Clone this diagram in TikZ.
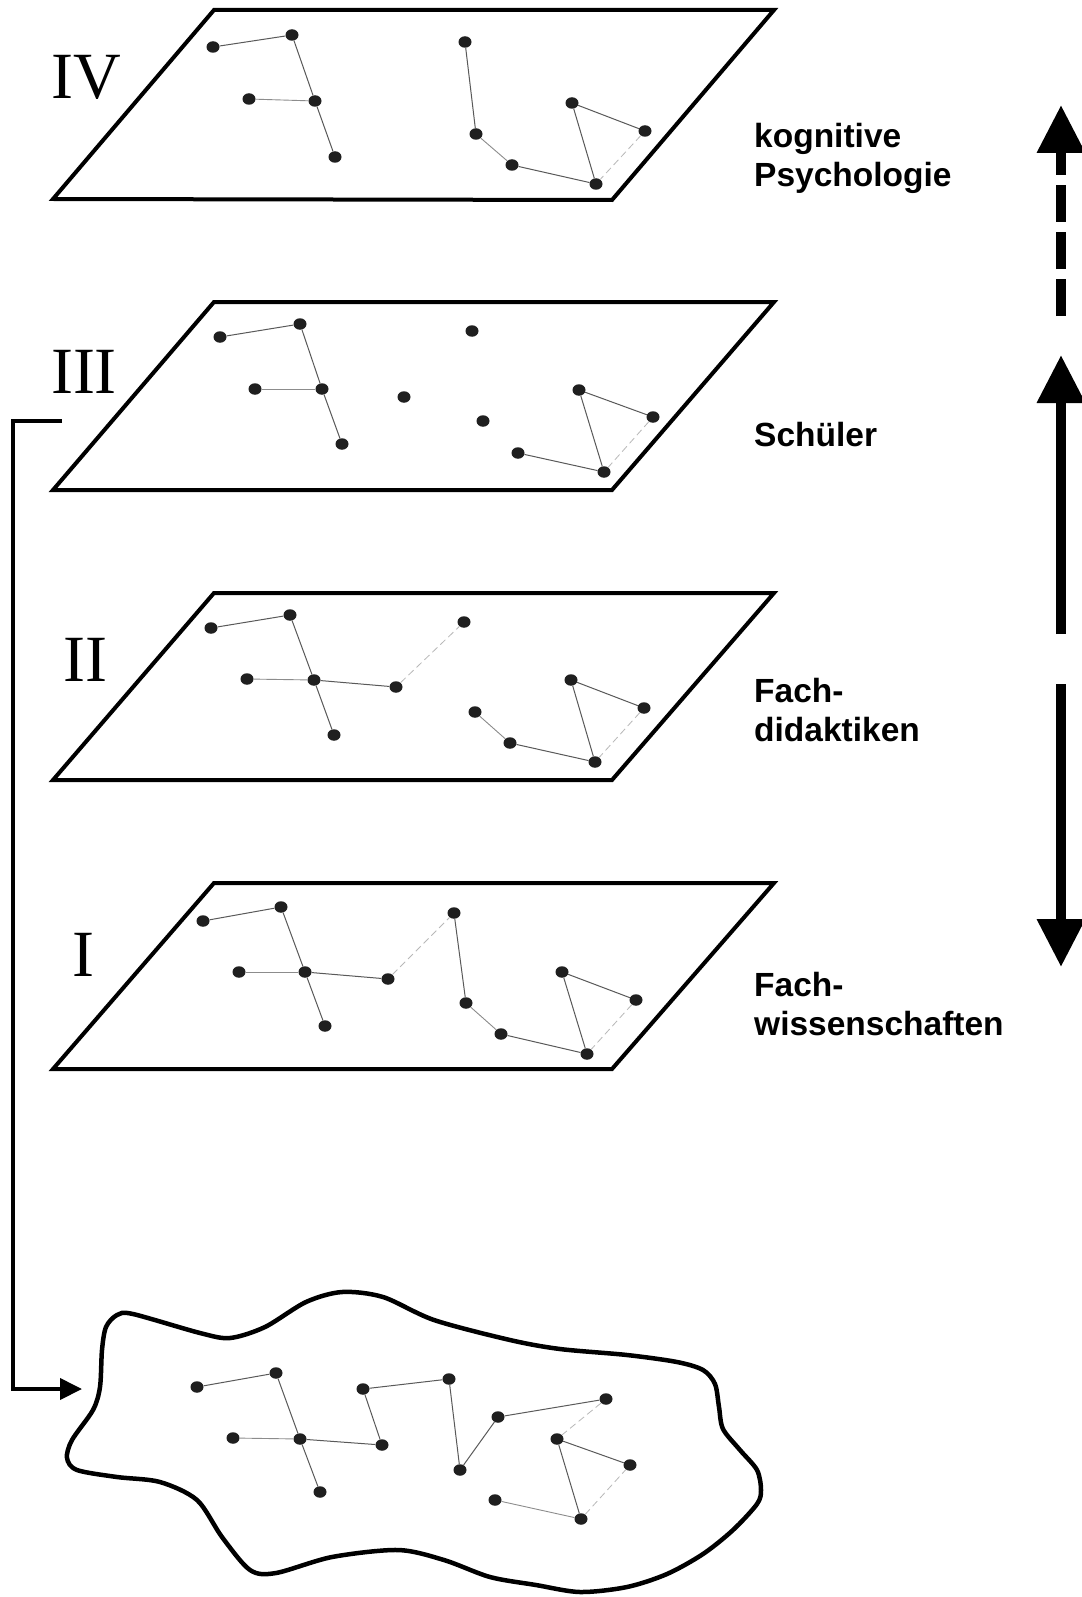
\documentclass[tikz,border=0pt]{standalone}
\usepackage{fontspec}
\setmainfont{Liberation Serif}
\newfontfamily\labelsans{Liberation Sans}
\usetikzlibrary{arrows.meta,shapes.geometric}

\tikzset{
  plane/.style={draw=black, line width=4pt, line join=miter, fill=white},
  dot/.style={ellipse, fill=black!88, inner sep=0pt, minimum width=13pt, minimum height=11.5pt},
  link/.style={draw=black!65, line width=1pt},
  lightlink/.style={draw=black!45, line width=0.9pt},
  faintlink/.style={draw=black!28, line width=0.8pt, dash pattern=on 7pt off 4pt},
  numeral/.style={font=\fontsize{66}{70}\selectfont, inner sep=0pt},
  layerlabel/.style={font=\labelsans\bfseries\fontsize{33.5}{39}\selectfont, align=left, inner sep=0pt, anchor=base west},
  fatarrow/.style={line width=10pt, -{Triangle[length=48pt,width=46pt]}},
  feed/.style={line width=4pt, -{Triangle[length=22pt,width=21pt]}},
  blob/.style={draw=black, line width=4.5pt}
}

\begin{document}
\begin{tikzpicture}[x=1pt,y=-1pt]
\useasboundingbox (0,0) rectangle (1081,1597);

% ---------- the four planes ----------
\draw[plane] (214,10)  -- (774,10)  -- (612,200)  -- (53,199)  -- cycle;
\draw[plane] (214,302) -- (774,302) -- (612,490)  -- (53,490)  -- cycle;
\draw[plane] (214,593) -- (774,593) -- (612,780)  -- (53,780)  -- cycle;
\draw[plane] (214,883) -- (774,883) -- (612,1069) -- (53,1069) -- cycle;

% ---------- numerals ----------
\node[numeral] (numIV)  at (86,77)  {IV};
\node[numeral] (numIII) at (84,372) {III};
\node[numeral] (numII)  at (85,660) {II};
\node[numeral] (numI)   at (83,955) {I};

% ---------- plane IV ----------
\node[dot] (a1) at (213,47) {};
\node[dot] (a2) at (292,35) {};
\node[dot] (a3) at (249,99) {};
\node[dot] (a4) at (315,101) {};
\node[dot] (a5) at (335,157) {};
\node[dot] (b1) at (465,42) {};
\node[dot] (b2) at (476,134) {};
\node[dot] (b3) at (512,165) {};
\node[dot] (b4) at (596,184) {};
\node[dot] (b5) at (572,103) {};
\node[dot] (b6) at (645,131) {};
\draw[link] (a1) -- (a2);
\draw[link] (a2) -- (a4);
\draw[link] (a4) -- (a5);
\draw[lightlink] (a3) -- (a4);
\draw[link] (b1) -- (b2);
\draw[lightlink] (b2) -- (b3);
\draw[link] (b3) -- (b4);
\draw[link] (b4) -- (b5);
\draw[link] (b5) -- (b6);
\draw[faintlink] (b6) -- (b4);

% ---------- plane III ----------
\node[dot] (c1) at (220,337) {};
\node[dot] (c2) at (300,324) {};
\node[dot] (c3) at (255,389) {};
\node[dot] (c4) at (322,389) {};
\node[dot] (c5) at (342,444) {};
\node[dot] (i1) at (472,331) {};
\node[dot] (i2) at (404,397) {};
\node[dot] (i3) at (483,421) {};
\node[dot] (d1) at (518,453) {};
\node[dot] (d2) at (604,472) {};
\node[dot] (d3) at (579,390) {};
\node[dot] (d4) at (653,417) {};
\draw[link] (c1) -- (c2);
\draw[link] (c2) -- (c4);
\draw[link] (c4) -- (c5);
\draw[lightlink] (c3) -- (c4);
\draw[link] (d1) -- (d2);
\draw[link] (d2) -- (d3);
\draw[link] (d3) -- (d4);
\draw[faintlink] (d4) -- (d2);

% ---------- plane II ----------
\node[dot] (e1) at (211,628) {};
\node[dot] (e2) at (290,615) {};
\node[dot] (e3) at (247,679) {};
\node[dot] (e4) at (314,680) {};
\node[dot] (e5) at (334,735) {};
\node[dot] (e6) at (396,687) {};
\node[dot] (e7) at (464,622) {};
\node[dot] (f1) at (475,712) {};
\node[dot] (f2) at (510,743) {};
\node[dot] (f3) at (595,762) {};
\node[dot] (f4) at (571,680) {};
\node[dot] (f5) at (644,708) {};
\draw[link] (e1) -- (e2);
\draw[link] (e2) -- (e4);
\draw[link] (e4) -- (e5);
\draw[link] (e4) -- (e6);
\draw[lightlink] (e3) -- (e4);
\draw[faintlink] (e6) -- (e7);
\draw[lightlink] (f1) -- (f2);
\draw[link] (f2) -- (f3);
\draw[link] (f3) -- (f4);
\draw[link] (f4) -- (f5);
\draw[faintlink] (f5) -- (f3);

% ---------- plane I ----------
\node[dot] (g1) at (203,921) {};
\node[dot] (g2) at (281,907) {};
\node[dot] (g3) at (239,972) {};
\node[dot] (g4) at (305,972) {};
\node[dot] (g5) at (325,1026) {};
\node[dot] (g6) at (388,979) {};
\node[dot] (g7) at (454,913) {};
\node[dot] (g8) at (466,1003) {};
\node[dot] (g9) at (501,1034) {};
\node[dot] (g10) at (587,1054) {};
\node[dot] (g11) at (562,972) {};
\node[dot] (g12) at (636,1000) {};
\draw[link] (g1) -- (g2);
\draw[link] (g2) -- (g4);
\draw[link] (g4) -- (g5);
\draw[link] (g4) -- (g6);
\draw[lightlink] (g3) -- (g4);
\draw[faintlink] (g6) -- (g7);
\draw[link] (g7) -- (g8);
\draw[lightlink] (g8) -- (g9);
\draw[link] (g9) -- (g10);
\draw[link] (g10) -- (g11);
\draw[link] (g11) -- (g12);
\draw[faintlink] (g12) -- (g10);

% ---------- layer labels (anchored at the last line's baseline) ----------
\node[layerlabel] (lblIV)  at (754,187)  {kognitive\\Psychologie};
\node[layerlabel] (lblIII) at (754,446)  {Schüler};
\node[layerlabel] (lblII)  at (754,741)  {Fach-\\didaktiken};
\node[layerlabel] (lblI)   at (754,1035) {Fach-\\wissenschaften};

% ---------- vertical arrows on the right ----------
\coordinate (upA0) at (1061,316);
\coordinate (upA1) at (1061,185);
\coordinate (upA2) at (1061,175);
\coordinate (upA3) at (1061,105);
\draw[line width=10pt, dash pattern=on 37pt off 10pt] (upA0) -- (upA1);
\draw[fatarrow] (upA2) -- (upA3);

\coordinate (upB0) at (1061,634);
\coordinate (upB1) at (1061,355);
\draw[fatarrow] (upB0) -- (upB1);

\coordinate (dnC0) at (1061,684);
\coordinate (dnC1) at (1061,967);
\draw[fatarrow] (dnC0) -- (dnC1);

% ---------- feedback line from plane III to the network ----------
\coordinate (fbStart) at (62,421);
\coordinate (fbEnd) at (82,1389);
\draw[feed] (fbStart) -| (13,1389) -- (fbEnd);

% ---------- combined network ----------
\draw[blob] plot[smooth cycle, tension=0.5] coordinates {
  (117,1315) (133,1314) (200,1333) (230,1338) (265,1327) (306,1302)
  (342,1292) (383,1297) (434,1320) (510,1340) (560,1349) (627,1355)
  (677,1362) (703,1370) (715,1384) (719,1407) (723,1429) (740,1450)
  (757,1470) (761,1490) (757,1504) (733,1530) (703,1554) (667,1574)
  (627,1587) (580,1592) (536,1585) (490,1577) (444,1560) (398,1550)
  (332,1557) (276,1573) (250,1570) (222,1537) (197,1500) (160,1482)
  (117,1477) (77,1470) (67,1458) (72,1440) (93,1410) (100,1387)
  (102,1350) (106,1327)
};

\node[dot] (h1) at (197,1387) {};
\node[dot] (h2) at (276,1373) {};
\node[dot] (h3) at (233,1438) {};
\node[dot] (h4) at (300,1439) {};
\node[dot] (h5) at (320,1492) {};
\node[dot] (h6) at (382,1445) {};
\node[dot] (h7) at (363,1389) {};
\node[dot] (h8) at (449,1379) {};
\node[dot] (h9) at (460,1470) {};
\node[dot] (h10) at (498,1417) {};
\node[dot] (h11) at (606,1399) {};
\node[dot] (h12) at (557,1439) {};
\node[dot] (h13) at (630,1465) {};
\node[dot] (h14) at (495,1500) {};
\node[dot] (h15) at (581,1519) {};
\draw[link] (h1) -- (h2);
\draw[link] (h2) -- (h4);
\draw[link] (h4) -- (h5);
\draw[link] (h4) -- (h6);
\draw[lightlink] (h3) -- (h4);
\draw[link] (h6) -- (h7);
\draw[link] (h7) -- (h8);
\draw[link] (h8) -- (h9);
\draw[link] (h9) -- (h10);
\draw[link] (h10) -- (h11);
\draw[faintlink] (h11) -- (h12);
\draw[link] (h12) -- (h13);
\draw[link] (h12) -- (h15);
\draw[lightlink] (h14) -- (h15);
\draw[faintlink] (h15) -- (h13);
\end{tikzpicture}
\end{document}
